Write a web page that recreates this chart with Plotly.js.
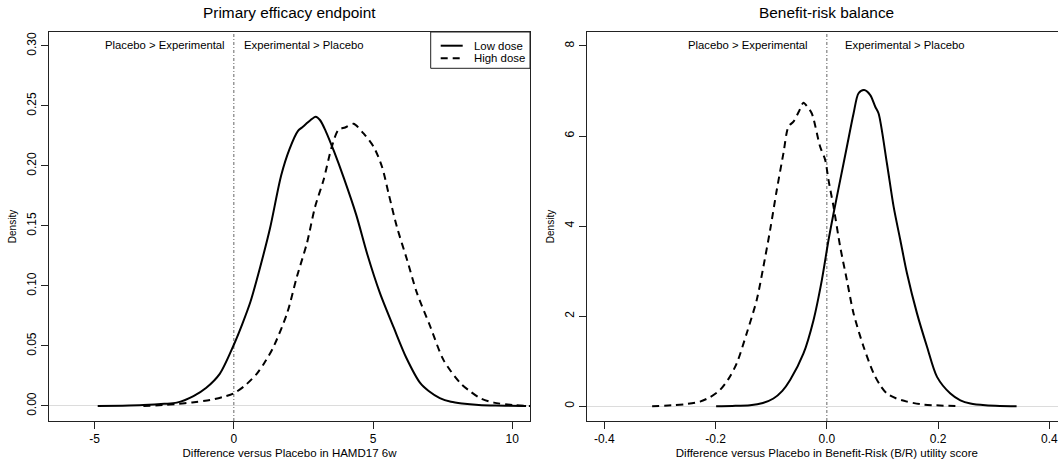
<!DOCTYPE html>
<html>
<head>
<meta charset="utf-8">
<script src="https://cdn.plot.ly/plotly-3.0.1.min.js"></script>
<style>
html,body{margin:0;padding:0;overflow:hidden;background:#fff;}
#chart{width:1070px;height:470px;}
</style>
</head>
<body>
<div id="chart"></div>
<script>
// ---- Panel 1: Primary efficacy endpoint (HAMD17 6w) ----
const effLowX  = [-4.89,-4.0,-3.25,-2.5,-2.05,-1.45,-1.0,-0.5,0.0,0.3,0.6,0.95,1.3,1.7,2.0,2.3,2.45,2.6,2.75,2.94,3.1,3.3,3.6,3.95,4.4,4.8,5.25,5.75,6.2,6.7,7.0,7.4,7.8,8.2,8.8,9.4,10.5];
const effLowY  = [0,0.0003,0.0008,0.0018,0.0028,0.0083,0.0150,0.027,0.051,0.068,0.087,0.116,0.148,0.192,0.214,0.229,0.232,0.235,0.238,0.241,0.238,0.229,0.212,0.190,0.159,0.126,0.094,0.065,0.040,0.019,0.0125,0.0066,0.0035,0.0021,0.0009,0.0004,0];
const effHighX = [-3.25,-2.5,-2.05,-1.5,-0.85,-0.4,0.0,0.4,0.83,1.1,1.42,1.91,2.27,2.63,2.92,3.22,3.52,3.76,4.0,4.3,4.66,5.02,5.32,5.56,5.86,6.22,6.58,7.06,7.54,8.14,8.5,8.86,9.34,10.06,10.66];
const effHighY = [0,0.0009,0.0017,0.0030,0.005,0.0075,0.0106,0.017,0.027,0.036,0.049,0.077,0.108,0.136,0.166,0.188,0.216,0.230,0.232,0.235,0.227,0.216,0.1995,0.177,0.149,0.122,0.094,0.066,0.038,0.019,0.012,0.0064,0.0028,0.0008,0];

// ---- Panel 2: Benefit-risk balance (B/R utility score) ----
const brLowX  = [-0.199,-0.17,-0.138,-0.115,-0.096,-0.08,-0.066,-0.042,-0.024,-0.009,0.003,0.012,0.024,0.036,0.048,0.057,0.067,0.078,0.087,0.093,0.108,0.120,0.132,0.144,0.162,0.180,0.198,0.222,0.24,0.258,0.285,0.311,0.341];
const brLowY  = [0,0.005,0.02,0.07,0.17,0.34,0.58,1.17,1.91,2.80,3.69,4.28,5.02,5.76,6.50,6.95,7.02,6.91,6.65,6.50,5.39,4.43,3.69,2.95,2.06,1.32,0.65,0.28,0.13,0.06,0.02,0.005,0];
const brHighX = [-0.314,-0.276,-0.25,-0.228,-0.21,-0.192,-0.177,-0.162,-0.144,-0.126,-0.114,-0.102,-0.090,-0.078,-0.069,-0.060,-0.050,-0.042,-0.035,-0.027,-0.012,-0.003,0.003,0.012,0.024,0.036,0.048,0.066,0.084,0.096,0.108,0.125,0.144,0.17,0.192,0.24];
const brHighY = [0,0.02,0.05,0.10,0.20,0.36,0.60,0.95,1.62,2.36,3.10,3.91,4.80,5.62,6.21,6.32,6.55,6.74,6.65,6.50,5.76,5.47,5.02,4.43,3.54,2.80,2.06,1.32,0.73,0.46,0.28,0.17,0.10,0.04,0.02,0];

// ---- Labels and ticks ----
const seriesNames = ["Low dose", "High dose"];
const panelTitles = ["Primary efficacy endpoint", "Benefit-risk balance"];
const xTitles = ["Difference versus Placebo in HAMD17 6w", "Difference versus Placebo in Benefit-Risk (B/R) utility score"];
const regionLabels = ["Placebo > Experimental", "Experimental > Placebo"];
const effXTicks = [-5, 0, 5, 10];
const effXTickText = ["-5", "0", "5", "10"];
const effYTicks = [0, 0.05, 0.10, 0.15, 0.20, 0.25, 0.30];
const effYTickText = ["0.00", "0.05", "0.10", "0.15", "0.20", "0.25", "0.30"];
const brXTicks = [-0.4, -0.2, 0.0, 0.2, 0.4];
const brXTickText = ["-0.4", "-0.2", "0.0", "0.2", "0.4"];
const brYTicks = [0, 2, 4, 6, 8];
const brYTickText = ["0", "2", "4", "6", "8"];

const FONT = "Liberation Sans, Arial, Helvetica, sans-serif";
const solid = {color: "#000", width: 2, shape: "spline", smoothing: 0.8};
const dashed = {color: "#000", width: 2, dash: "7px,5px", shape: "spline", smoothing: 0.8};

const traces = [
  {x: effLowX, y: effLowY, type: "scatter", mode: "lines", name: seriesNames[0], line: solid, xaxis: "x", yaxis: "y"},
  {x: effHighX, y: effHighY, type: "scatter", mode: "lines", name: seriesNames[1], line: dashed, xaxis: "x", yaxis: "y"},
  {x: brLowX, y: brLowY, type: "scatter", mode: "lines", name: seriesNames[0], line: solid, xaxis: "x2", yaxis: "y2"},
  {x: brHighX, y: brHighY, type: "scatter", mode: "lines", name: seriesNames[1], line: dashed, xaxis: "x2", yaxis: "y2"}
];

const axisCommon = {
  showline: true, mirror: true, linecolor: "#222", linewidth: 1,
  ticks: "outside", ticklen: 7, tickcolor: "#222", tickwidth: 1,
  showgrid: false, tickfont: {family: FONT, size: 12, color: "#000"},
  tickmode: "array", fixedrange: true
};

// plot area in pixels: x 49..1067, y 32..421
const PW = 1018, PH = 389;
const px = v => (v - 49) / PW;
const py = v => (421 - v) / PH;
const xDomL = [0, px(530)];
const xDomR = [px(586.7), 1];

// hand-drawn legend (R style), positioned in paper units
const legBox = {x0: px(430.7), x1: px(530), y0: py(68.3), y1: 1};
const legRowsY = [py(45.7), py(58.3)];
const legLineX = [px(440.7), px(462.7)];
const legTextX = px(472);

const layout = {
  width: 1070, height: 470,
  margin: {l: 49, r: 3, t: 32, b: 49},
  paper_bgcolor: "#fff", plot_bgcolor: "#fff",
  font: {family: FONT, color: "#000"},
  showlegend: false,
  xaxis: Object.assign({}, axisCommon, {
    domain: xDomL, range: [-6.64, 10.64], zeroline: false,
    tickvals: effXTicks, ticktext: effXTickText,
    title: {text: xTitles[0], font: {family: FONT, size: 11.5}, standoff: 3}
  }),
  yaxis: Object.assign({}, axisCommon, {
    range: [-0.0125, 0.3115], zeroline: true, zerolinecolor: "#dcdcdc", zerolinewidth: 1,
    tickvals: effYTicks, ticktext: effYTickText, tickangle: -90,
    title: {text: "Density", font: {family: FONT, size: 10}, standoff: 6}
  }),
  xaxis2: Object.assign({}, axisCommon, {
    domain: xDomR, range: [-0.4316, 0.4316], zeroline: false, anchor: "y2",
    tickvals: brXTicks, ticktext: brXTickText,
    title: {text: xTitles[1], font: {family: FONT, size: 11.5}, standoff: 3}
  }),
  yaxis2: Object.assign({}, axisCommon, {
    anchor: "x2",
    range: [-0.33, 8.31], zeroline: true, zerolinecolor: "#dcdcdc", zerolinewidth: 1,
    tickvals: brYTicks, ticktext: brYTickText, tickangle: -90,
    title: {text: "Density", font: {family: FONT, size: 10}, standoff: 6}
  }),
  shapes: [
    {type: "line", xref: "x", yref: "y domain", x0: 0, x1: 0, y0: 0, y1: 1, line: {color: "#666", width: 1, dash: "3px,2px,1px,2px"}, layer: "below"},
    {type: "line", xref: "x2", yref: "y2 domain", x0: 0, x1: 0, y0: 0, y1: 1, line: {color: "#666", width: 1, dash: "3px,2px,1px,2px"}, layer: "below"},
    {type: "rect", xref: "paper", yref: "paper", x0: legBox.x0, x1: legBox.x1, y0: legBox.y0, y1: legBox.y1, line: {color: "#222", width: 1}, fillcolor: "#fff", layer: "above"},
    {type: "line", xref: "paper", yref: "paper", x0: legLineX[0], x1: legLineX[1], y0: legRowsY[0], y1: legRowsY[0], line: {color: "#000", width: 2}},
    {type: "line", xref: "paper", yref: "paper", x0: legLineX[0], x1: legLineX[1], y0: legRowsY[1], y1: legRowsY[1], line: {color: "#000", width: 2, dash: "7px,5px"}}
  ],
  annotations: [
    {xref: "x domain", yref: "paper", x: 0.5, y: 1, yanchor: "bottom", yshift: 9, showarrow: false, text: panelTitles[0], font: {family: FONT, size: 15.4, color: "#000"}},
    {xref: "x2 domain", yref: "paper", x: 0.5, y: 1, yanchor: "bottom", yshift: 9, showarrow: false, text: panelTitles[1], font: {family: FONT, size: 15.4, color: "#000"}},
    {xref: "x", yref: "y", x: 0, y: 0.30, xanchor: "right", xshift: -7, yshift: 1, showarrow: false, text: regionLabels[0], font: {family: FONT, size: 11.3, color: "#000"}},
    {xref: "x", yref: "y", x: 0, y: 0.30, xanchor: "left", xshift: 8, yshift: 1, showarrow: false, text: regionLabels[1], font: {family: FONT, size: 11.3, color: "#000"}},
    {xref: "x2", yref: "y2", x: 0, y: 8, xanchor: "right", xshift: -17, yshift: 1, showarrow: false, text: regionLabels[0], font: {family: FONT, size: 11.3, color: "#000"}},
    {xref: "x2", yref: "y2", x: 0, y: 8, xanchor: "left", xshift: 16, yshift: 1, showarrow: false, text: regionLabels[1], font: {family: FONT, size: 11.3, color: "#000"}},
    {xref: "paper", yref: "paper", x: legTextX, y: legRowsY[0], xanchor: "left", yanchor: "middle", showarrow: false, text: seriesNames[0], font: {family: FONT, size: 11.4, color: "#000"}},
    {xref: "paper", yref: "paper", x: legTextX, y: legRowsY[1], xanchor: "left", yanchor: "middle", showarrow: false, text: seriesNames[1], font: {family: FONT, size: 11.4, color: "#000"}}
  ]
};

Plotly.newPlot("chart", traces, layout, {displayModeBar: false, staticPlot: true});
</script>
</body>
</html>
